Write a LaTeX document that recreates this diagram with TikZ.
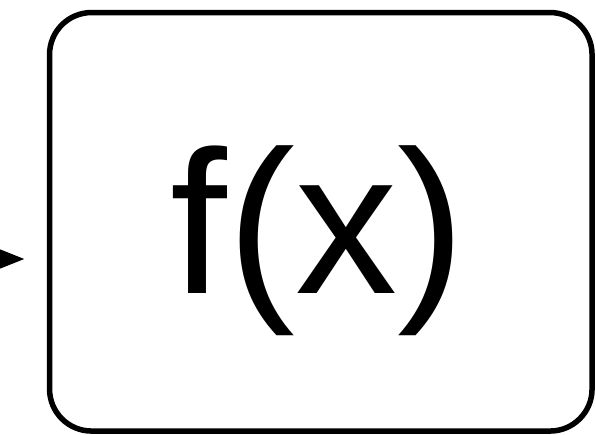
\documentclass[tikz,border=0pt]{standalone}
\usepackage{fontspec}
\setmainfont{Liberation Sans}
\usetikzlibrary{arrows.meta}
\begin{document}
\begin{tikzpicture}[x=1pt,y=-1pt,
  fbox/.style={draw=black,line width=5.5pt,rounded corners=42pt,minimum width=542.5pt,minimum height=418.5pt,inner sep=0pt},
  conn/.style={line width=5.5pt,-{Triangle[length=28pt,width=20pt]}},
  biglabel/.style={inner sep=0pt,font=\fontsize{204}{204}\selectfont}]
\useasboundingbox (0,0) rectangle (596,435);
\node[fbox] (fx) at (320.8,221.8) {};
\node[biglabel,anchor=base] (lab) at (318,293) {f(x)};
\coordinate (src) at (-60,259);
\coordinate (dst) at (47,259);
\draw[conn,shorten >=22pt] (src) -- (dst);
\end{tikzpicture}
\end{document}
